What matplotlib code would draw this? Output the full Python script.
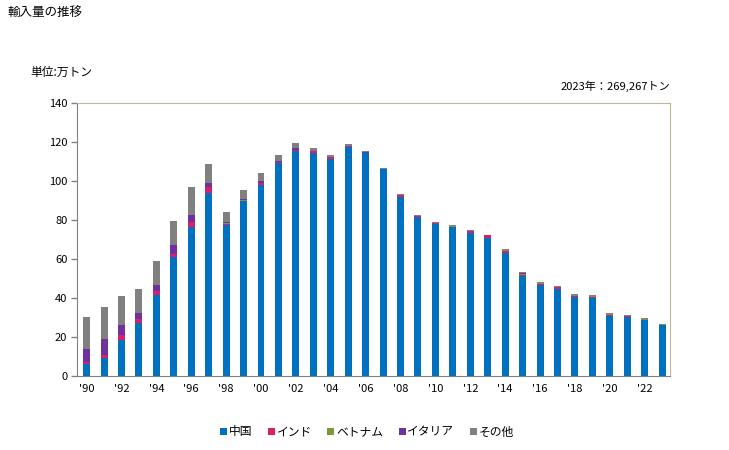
import numpy as np
import matplotlib
matplotlib.use("Agg")
import matplotlib.pyplot as plt
from matplotlib.patches import Patch

plt.rcParams["font.family"] = ["Noto Sans CJK JP", "DejaVu Sans"]

years = list(range(1990, 2024))
# 万トン
china = [6.3, 9.4, 18.7, 27.2, 41.6, 60.8, 76.2, 93.6, 77.2, 89.5,
         98.1, 109.0, 115.2, 114.2, 111.1, 117.6, 114.2, 105.9, 91.9, 81.6,
         78.2, 76.2, 73.4, 71.0, 63.2, 51.5, 46.7, 44.7, 40.6, 40.2,
         31.0, 30.1, 28.8, 26.2]
india = [1.0, 1.4, 2.4, 2.1, 2.0, 2.0, 3.0, 3.3, 1.0, 0.4,
         0.9, 0.5, 0.8, 1.0, 1.0, 0.5, 0.3, 0.2, 0.9, 0.5,
         0.3, 0.3, 1.0, 1.1, 1.0, 0.4, 0.7, 0.7, 0.6, 0.4,
         0.3, 0.7, 0.1, 0.1]
vietnam = [0.0, 0.0, 0.0, 0.0, 0.0, 0.0, 0.0, 0.0, 0.1, 0.3,
           0.0, 0.0, 0.0, 0.0, 0.0, 0.0, 0.0, 0.1, 0.0, 0.0,
           0.1, 0.5, 0.1, 0.0, 0.5, 0.5, 0.1, 0.1, 0.1, 0.5,
           0.5, 0.1, 0.2, 0.5]
italy = [6.6, 8.2, 5.1, 3.0, 3.1, 4.5, 3.5, 2.2, 0.9, 0.7,
         1.2, 0.9, 1.1, 0.3, 0.3, 0.0, 0.5, 0.0, 0.0, 0.0,
         0.0, 0.0, 0.0, 0.0, 0.0, 0.5, 0.0, 0.0, 0.0, 0.0,
         0.0, 0.0, 0.0, 0.0]
other = [16.3, 16.4, 14.9, 12.4, 12.3, 12.3, 14.3, 9.7, 5.1, 4.6,
         4.1, 3.1, 2.5, 1.6, 1.1, 1.0, 0.4, 0.6, 0.6, 0.6,
         0.5, 0.5, 0.5, 0.3, 0.5, 0.5, 0.8, 0.7, 0.8, 0.5,
         0.5, 0.4, 0.7, 0.1]

series = [("中国", china, "#0070c0"),
          ("インド", india, "#d6206a"),
          ("ベトナム", vietnam, "#7a9a3a"),
          ("イタリア", italy, "#7030a0"),
          ("その他", other, "#808080")]

fig = plt.figure(figsize=(7.29, 4.5), dpi=100)
ax = fig.add_axes([77 / 729, 74 / 450, 593 / 729, 273 / 450])

x = np.array(years)
bottom = np.zeros(len(years))
for name, vals, color in series:
    ax.bar(x, vals, width=0.4, bottom=bottom, color=color, linewidth=0)
    bottom += np.array(vals)

ax.set_xlim(1989.45, 2023.45)
ax.set_ylim(0, 140)
ax.set_yticks(range(0, 141, 20))
ax.set_xticks(range(1990, 2023, 2))
ax.set_xticklabels(["'%02d" % (y % 100) for y in range(1990, 2023, 2)])
ax.tick_params(axis="x", length=0, labelsize=8, pad=6)
ax.tick_params(axis="y", length=4, width=1, color="#808080", labelsize=8, pad=3)

for s in ("left", "bottom"):
    ax.spines[s].set_color("#808080")
for s in ("top", "right"):
    ax.spines[s].set_color("#c0b890")

fig.text(7 / 729, 1 - 12 / 450, "輸入量の推移", fontsize=9, va="center", ha="left")
fig.text(30 / 729, 1 - 72 / 450, "単位:万トン", fontsize=8.5, va="center", ha="left")
fig.text(670 / 729, 1 - 86 / 450, "2023年：269,267トン", fontsize=8, va="center", ha="right")

handles = [Patch(facecolor=c, edgecolor="none", label=n) for n, _, c in series]
fig.legend(handles=handles, loc="center", bbox_to_anchor=(367 / 729, 1 - 432 / 450),
           ncol=5, frameon=False, fontsize=8.5, handlelength=0.6, handleheight=0.6,
           handletextpad=0.15, columnspacing=1.3)

fig.savefig("out.png", dpi=100)
